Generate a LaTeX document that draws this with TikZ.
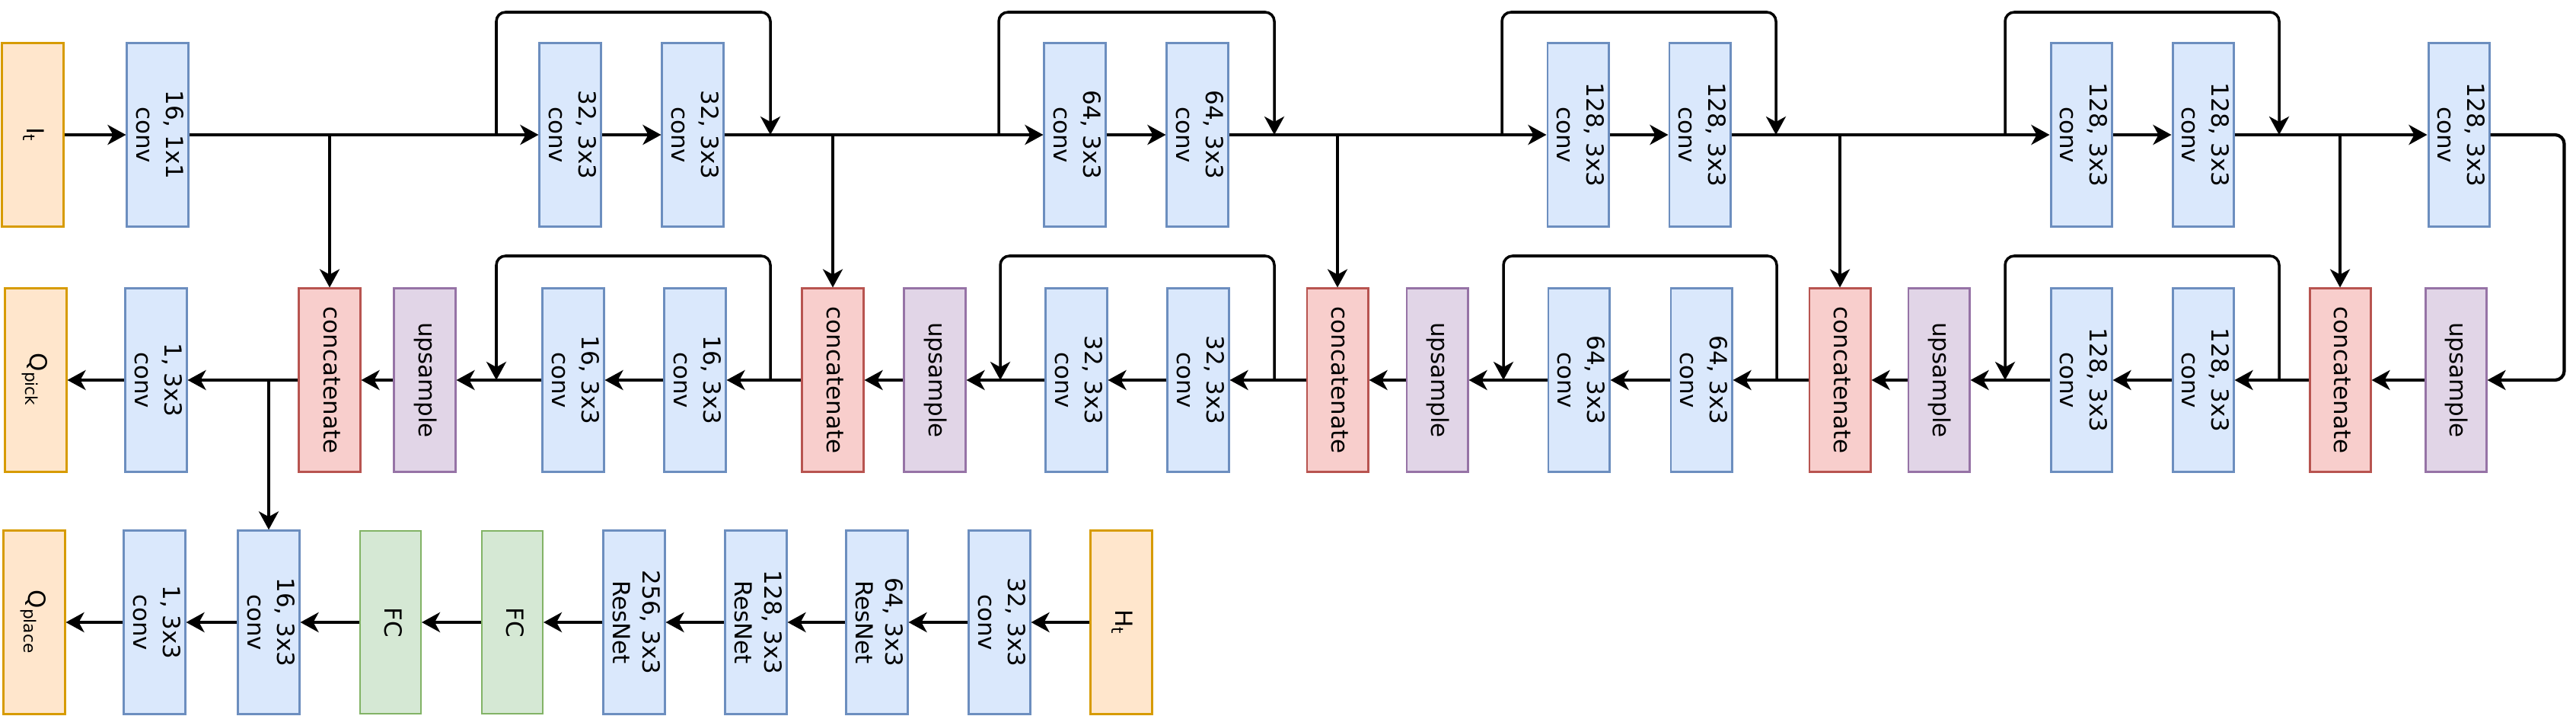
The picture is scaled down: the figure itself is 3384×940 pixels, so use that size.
\documentclass[tikz,border=0pt]{standalone}
\usepackage{fontspec}
\setmainfont{DejaVu Sans}
\usepackage{graphicx}
\usetikzlibrary{arrows.meta,calc}

\definecolor{inFill}{HTML}{FFE6CC}
\definecolor{inLine}{HTML}{D79B00}
\definecolor{convFill}{HTML}{DAE8FC}
\definecolor{convLine}{HTML}{6C8EBF}
\definecolor{catFill}{HTML}{F8CECC}
\definecolor{catLine}{HTML}{B85450}
\definecolor{upFill}{HTML}{E1D5E7}
\definecolor{upLine}{HTML}{9673A6}
\definecolor{fcFill}{HTML}{D5E8D4}
\definecolor{fcLine}{HTML}{82B366}

\newcommand{\vlabel}[1]{\rotatebox{-90}{\begin{tabular}{@{}c@{}}#1\end{tabular}}}

\tikzset{
  block/.style={draw, line width=0.85pt, minimum width=0.8cm, minimum height=2.4cm,
    inner sep=0pt, font=\fontsize{8.8}{11}\selectfont},
  inbox/.style={block, fill=inFill, draw=inLine},
  convbox/.style={block, fill=convFill, draw=convLine},
  catbox/.style={block, fill=catFill, draw=catLine},
  upbox/.style={block, fill=upFill, draw=upLine},
  fcbox/.style={block, fill=fcFill, draw=fcLine, line width=0.55pt},
  flow/.style={line width=1.2pt, -{Stealth[length=0.24cm,width=0.26cm,inset=0.07cm]}},
  link/.style={line width=1pt, -{Stealth[length=0.24cm,width=0.26cm,inset=0.07cm]}},
  skip/.style={link, rounded corners=0.12cm}
}

\begin{document}
\begin{tikzpicture}[x=0.01cm,y=-0.01cm]
  \useasboundingbox (0,0) rectangle (3384,940);
  %ROW 1 : ENCODER
  \node[inbox] (It) at (43,177) {\vlabel{I\textsubscript{t}}};
  \node[convbox] (e16) at (207,177) {\vlabel{16, 1x1\\conv}};
  \node[convbox] (e32a) at (749,177) {\vlabel{32, 3x3\\conv}};
  \node[convbox] (e32b) at (910,177) {\vlabel{32, 3x3\\conv}};
  \node[convbox] (e64a) at (1412,177) {\vlabel{64, 3x3\\conv}};
  \node[convbox] (e64b) at (1573,177) {\vlabel{64, 3x3\\conv}};
  \node[convbox] (e128a) at (2073,177) {\vlabel{128, 3x3\\conv}};
  \node[convbox] (e128b) at (2233,177) {\vlabel{128, 3x3\\conv}};
  \node[convbox] (e128c) at (2734,177) {\vlabel{128, 3x3\\conv}};
  \node[convbox] (e128d) at (2894,177) {\vlabel{128, 3x3\\conv}};
  \node[convbox] (e128e) at (3230,177) {\vlabel{128, 3x3\\conv}};
  %ROW 2 : DECODER
  \node[inbox] (Qpick) at (47,499) {\vlabel{Q\textsubscript{pick}}};
  \node[convbox] (d1) at (205,499) {\vlabel{1, 3x3\\conv}};
  \node[catbox] (cat1) at (433,499) {\vlabel{concatenate}};
  \node[upbox] (up1) at (558,499) {\vlabel{upsample}};
  \node[convbox] (d16a) at (753,499) {\vlabel{16, 3x3\\conv}};
  \node[convbox] (d16b) at (913,499) {\vlabel{16, 3x3\\conv}};
  \node[catbox] (cat2) at (1094,499) {\vlabel{concatenate}};
  \node[upbox] (up2) at (1228,499) {\vlabel{upsample}};
  \node[convbox] (d32a) at (1414,499) {\vlabel{32, 3x3\\conv}};
  \node[convbox] (d32b) at (1574,499) {\vlabel{32, 3x3\\conv}};
  \node[catbox] (cat3) at (1757,499) {\vlabel{concatenate}};
  \node[upbox] (up3) at (1888,499) {\vlabel{upsample}};
  \node[convbox] (d64a) at (2074,499) {\vlabel{64, 3x3\\conv}};
  \node[convbox] (d64b) at (2235,499) {\vlabel{64, 3x3\\conv}};
  \node[catbox] (cat4) at (2417,499) {\vlabel{concatenate}};
  \node[upbox] (up4) at (2547,499) {\vlabel{upsample}};
  \node[convbox] (d128a) at (2734,499) {\vlabel{128, 3x3\\conv}};
  \node[convbox] (d128b) at (2894,499) {\vlabel{128, 3x3\\conv}};
  \node[catbox] (cat5) at (3074,499) {\vlabel{concatenate}};
  \node[upbox] (up5) at (3226,499) {\vlabel{upsample}};
  %ROW 3 : PLACE
  \node[inbox] (Qplace) at (45,817) {\vlabel{Q\textsubscript{place}}};
  \node[convbox] (f1) at (203,817) {\vlabel{1, 3x3\\conv}};
  \node[convbox] (f16) at (353,817) {\vlabel{16, 3x3\\conv}};
  \node[fcbox] (fc1) at (513,817) {\vlabel{FC}};
  \node[fcbox] (fc2) at (673,817) {\vlabel{FC}};
  \node[convbox] (r256) at (833,817) {\vlabel{256, 3x3\\ResNet}};
  \node[convbox] (r128) at (993,817) {\vlabel{128, 3x3\\ResNet}};
  \node[convbox] (r64) at (1152,817) {\vlabel{64, 3x3\\ResNet}};
  \node[convbox] (f32) at (1313,817) {\vlabel{32, 3x3\\conv}};
  \node[inbox] (Ht) at (1473,817) {\vlabel{H\textsubscript{t}}};
  %ROW 1 ARROWS
  \draw[flow] (It.east) -- (e16);
  \draw[flow] (e16) -- (e32a);
  \draw[flow] (e32a) -- (e32b);
  \draw[flow] (e32b) -- (e64a);
  \draw[flow] (e64a) -- (e64b);
  \draw[flow] (e64b) -- (e128a);
  \draw[flow] (e128a) -- (e128b);
  \draw[flow] (e128b) -- (e128c);
  \draw[flow] (e128c) -- (e128d);
  \draw[flow] (e128d) -- (e128e);
  \draw[flow, rounded corners=0.12cm] (e128e.east) -- ++(97,0) |- (up5.east);
  %ROW 1 SKIPS
  \coordinate (s1a) at (652,177);
  \coordinate (s1b) at (1012,177);
  \coordinate (s2a) at (1312,177);
  \coordinate (s2b) at (1674,177);
  \coordinate (s3a) at (1973,177);
  \coordinate (s3b) at (2333,177);
  \coordinate (s4a) at (2634,177);
  \coordinate (s4b) at (2994,177);
  \draw[skip] (s1a) -- ++(0,-161) -| (s1b);
  \draw[skip] (s2a) -- ++(0,-161) -| (s2b);
  \draw[skip] (s3a) -- ++(0,-161) -| (s3b);
  \draw[skip] (s4a) -- ++(0,-161) -| (s4b);
  %ROW 1 TO ROW 2
  \draw[link] (cat1 |- e16) -- (cat1.north);
  \draw[link] (cat2 |- e16) -- (cat2.north);
  \draw[link] (cat3 |- e16) -- (cat3.north);
  \draw[link] (cat4 |- e16) -- (cat4.north);
  \draw[link] (cat5 |- e16) -- (cat5.north);
  %ROW 2 ARROWS
  \draw[flow] (up5) -- (cat5);
  \draw[flow] (cat5) -- (d128b);
  \draw[flow] (d128b) -- (d128a);
  \draw[flow] (d128a) -- (up4);
  \draw[flow] (up4) -- (cat4);
  \draw[flow] (cat4) -- (d64b);
  \draw[flow] (d64b) -- (d64a);
  \draw[flow] (d64a) -- (up3);
  \draw[flow] (up3) -- (cat3);
  \draw[flow] (cat3) -- (d32b);
  \draw[flow] (d32b) -- (d32a);
  \draw[flow] (d32a) -- (up2);
  \draw[flow] (up2) -- (cat2);
  \draw[flow] (cat2) -- (d16b);
  \draw[flow] (d16b) -- (d16a);
  \draw[flow] (d16a) -- (up1);
  \draw[flow] (up1) -- (cat1);
  \draw[flow] (cat1) -- (d1);
  \draw[flow] (d1) -- (Qpick);
  %ROW 2 SKIPS
  \coordinate (t1a) at (1012,499);
  \coordinate (t1b) at (652,499);
  \coordinate (t2a) at (1674,499);
  \coordinate (t2b) at (1314,499);
  \coordinate (t3a) at (2334,499);
  \coordinate (t3b) at (1975,499);
  \coordinate (t4a) at (2994,499);
  \coordinate (t4b) at (2634,499);
  \draw[skip] (t1a) -- ++(0,-163) -| (t1b);
  \draw[skip] (t2a) -- ++(0,-163) -| (t2b);
  \draw[skip] (t3a) -- ++(0,-163) -| (t3b);
  \draw[skip] (t4a) -- ++(0,-163) -| (t4b);
  %ROW 2 TO ROW 3
  \draw[link] (f16 |- d1) -- (f16.north);
  %ROW 3 ARROWS
  \draw[flow] (Ht) -- (f32);
  \draw[flow] (f32) -- (r64);
  \draw[flow] (r64) -- (r128);
  \draw[flow] (r128) -- (r256);
  \draw[flow] (r256) -- (fc2);
  \draw[flow] (fc2) -- (fc1);
  \draw[flow] (fc1) -- (f16);
  \draw[flow] (f16) -- (f1);
  \draw[flow] (f1) -- (Qplace);
\end{tikzpicture}
\end{document}
